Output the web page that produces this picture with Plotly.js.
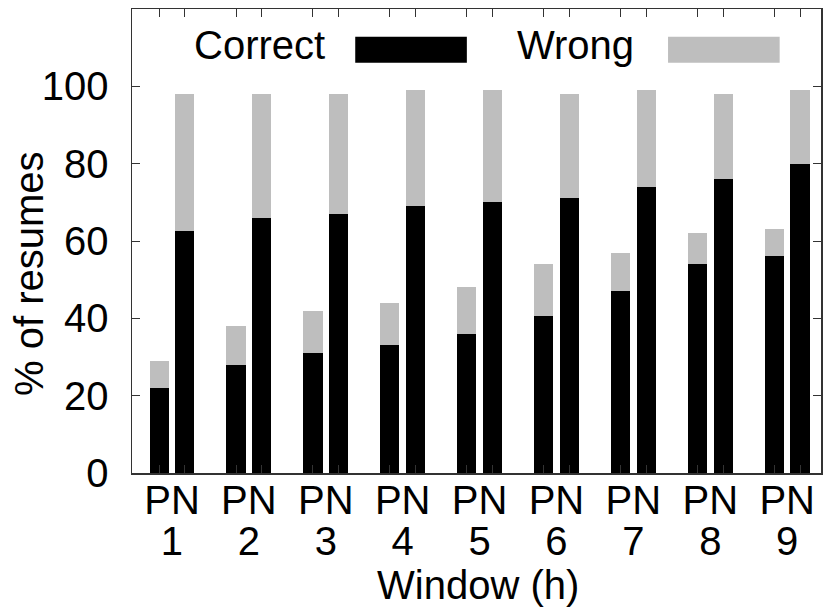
<!DOCTYPE html>
<html>
<head>
<meta charset="utf-8">
<script src="https://cdn.plot.ly/plotly-3.0.1.min.js"></script>
<style>html,body{margin:0;padding:0;background:#fff;}#chart{width:824px;height:613px;}</style>
</head>
<body>
<div id="chart"></div>
<script>
// Data
const windows = [1, 2, 3, 4, 5, 6, 7, 8, 9];
const windowLabels = ["1", "2", "3", "4", "5", "6", "7", "8", "9"];
const barLabel = "PN";
// P = first bar in each window, N = second bar
const correctP = [22, 28, 31, 33, 36, 40.5, 47, 54, 56];
const totalP   = [29, 38, 42, 44, 48, 54, 57, 62, 63];
const correctN = [62.5, 66, 67, 69, 70, 71, 74, 76, 80];
const totalN   = [98, 98, 98, 99, 99, 98, 99, 98, 99];
const yTicks = [0, 20, 40, 60, 80, 100];

const offset = 0.167;
const barWidth = 0.25;
const xP = windows.map(w => w - offset);
const xN = windows.map(w => w + offset);
const xs = xP.concat(xN);
const correct = correctP.concat(correctN);
const wrong = totalP.map((t, i) => t - correctP[i]).concat(totalN.map((t, i) => t - correctN[i]));

const FONT = "Liberation Sans, Arial, sans-serif";
const FS = 40;
const XR = [0.48, 9.44];

const traces = [
  {type: 'bar', name: 'Correct', x: xs, y: correct, width: barWidth,
   marker: {color: '#000000', line: {width: 0}}, showlegend: false, xaxis: 'x', yaxis: 'y'},
  {type: 'bar', name: 'Wrong', x: xs, y: wrong, width: barWidth,
   marker: {color: '#bebebe', line: {width: 0}}, showlegend: false, xaxis: 'x', yaxis: 'y'},
  {type: 'scatter', x: windows, y: windows.map(() => 0), mode: 'none', showlegend: false,
   hoverinfo: 'skip', xaxis: 'x2', yaxis: 'y'},
  {type: 'scatter', x: windows, y: windows.map(() => 0), mode: 'none', showlegend: false,
   hoverinfo: 'skip', xaxis: 'x3', yaxis: 'y'}
];

const labelAxis = (texts, standoff) => ({
  overlaying: 'x', side: 'bottom', range: XR,
  tickvals: windows, ticktext: texts,
  ticks: '', showline: false, showgrid: false, zeroline: false,
  ticklabelstandoff: standoff,
  tickfont: {family: FONT, size: FS, color: '#000'},
  fixedrange: true
});

const layout = {
  width: 824, height: 613,
  margin: {l: 132, r: 3, t: 9, b: 140},
  paper_bgcolor: '#fff', plot_bgcolor: '#fff',
  barmode: 'stack',
  font: {family: FONT, size: FS, color: '#000'},
  xaxis: {
    range: XR, tickvals: xs, showticklabels: false,
    ticks: 'inside', ticklen: 8, tickcolor: '#333', tickwidth: 1,
    showline: true, linecolor: '#333', linewidth: 1.5, mirror: 'ticks',
    showgrid: false, zeroline: false, fixedrange: true
  },
  xaxis2: labelAxis(windows.map(() => barLabel), 0),
  xaxis3: labelAxis(windowLabels, 41),
  yaxis: {
    range: [0, 120], tickvals: yTicks,
    ticks: 'inside', ticklen: 8, tickcolor: '#333', tickwidth: 1,
    showline: true, linecolor: '#333', linewidth: 1.5, mirror: 'ticks',
    showgrid: false, zeroline: false, ticklabelstandoff: 14,
    tickfont: {family: FONT, size: FS, color: '#000'},
    fixedrange: true
  },
  annotations: [
    {xref: 'paper', yref: 'paper', x: -0.1495, y: 0.431, xanchor: 'center', yanchor: 'middle',
     textangle: -90, text: '% of resumes', showarrow: false, font: {family: FONT, size: FS, color: '#000'}},
    {xref: 'paper', yref: 'paper', x: 0.502, y: -0.241, xanchor: 'center', yanchor: 'middle',
     text: 'Window (h)', showarrow: false, font: {family: FONT, size: FS, color: '#000'}},
    {xref: 'paper', yref: 'paper', x: 0.283, y: 0.922, xanchor: 'right', yanchor: 'middle',
     text: 'Correct', showarrow: false, font: {family: FONT, size: FS, color: '#000'}},
    {xref: 'paper', yref: 'paper', x: 0.7315, y: 0.922, xanchor: 'right', yanchor: 'middle',
     text: 'Wrong', showarrow: false, font: {family: FONT, size: FS, color: '#000'}}
  ],
  shapes: [
    {type: 'rect', xref: 'paper', yref: 'paper', x0: 0.324, x1: 0.486, y0: 0.884, y1: 0.94,
     fillcolor: '#000', line: {width: 0}},
    {type: 'rect', xref: 'paper', yref: 'paper', x0: 0.778, x1: 0.94, y0: 0.884, y1: 0.94,
     fillcolor: '#bebebe', line: {width: 0}}
  ]
};

Plotly.newPlot('chart', traces, layout, {displayModeBar: false, staticPlot: true});
</script>
</body>
</html>
